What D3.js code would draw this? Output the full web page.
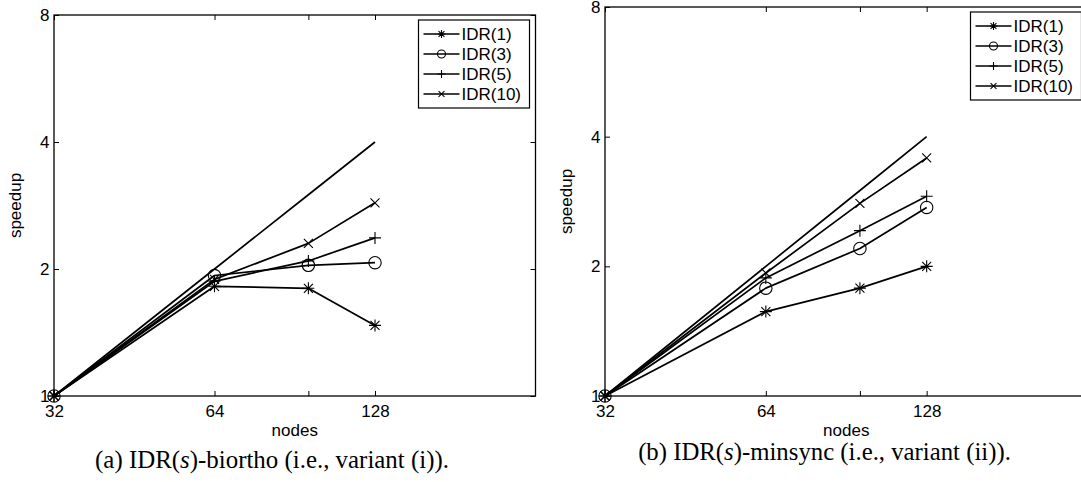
<!DOCTYPE html>
<html>
<head>
<meta charset="utf-8">
<script src="https://cdn.jsdelivr.net/npm/d3@7"></script>
<style>
  html, body { margin: 0; padding: 0; background: #fff; }
  svg { display: block; }
  text { font-family: "Liberation Sans", Arial, Helvetica, sans-serif; fill: #000; }
  .cap { font-family: "Liberation Serif", "DejaVu Serif", serif; }
</style>
</head>
<body>
<svg id="chart" width="1081" height="482"></svg>
<script>
// ---- data ----
const nodes = [32, 64, 96, 128];
const xTickLabels = ["32", "64", "", "128"];
const yTicks = [1, 2, 4, 8];
const yTickLabels = ["1", "2", "4", "8"];
const seriesNames = ["IDR(1)", "IDR(3)", "IDR(5)", "IDR(10)"];
const seriesMarkers = ["asterisk", "circle", "plus", "cross"];
const idealSpeedup = [1, 2, 3, 4];

// (a) IDR(s)-biortho
const biorthoIDR1  = [1, 1.82, 1.80, 1.47];
const biorthoIDR3  = [1, 1.93, 2.04, 2.07];
const biorthoIDR5  = [1, 1.87, 2.09, 2.37];
const biorthoIDR10 = [1, 1.89, 2.30, 2.87];

// (b) IDR(s)-minsync
const minsyncIDR1  = [1, 1.57, 1.78, 2.00];
const minsyncIDR3  = [1, 1.78, 2.20, 2.74];
const minsyncIDR5  = [1, 1.88, 2.42, 2.91];
const minsyncIDR10 = [1, 1.93, 2.80, 3.57];

const xDomain = [32, 256];
const yDomain = [1, 8];

// ---- drawing ----
const svg = d3.select("#chart");
svg.append("rect").attr("width", 1081).attr("height", 482).attr("fill", "#fff");

function markerPath(type, s) {
  const a = 6 * s, d = 4.5 * s;
  if (type === "asterisk") return `M${-a},0H${a}M0,${-a}V${a}M${-d},${-d}L${d},${d}M${-d},${d}L${d},${-d}`;
  if (type === "plus") return `M${-a},0H${a}M0,${-a}V${a}`;
  if (type === "cross") return `M${-d},${-d}L${d},${d}M${-d},${d}L${d},${-d}`;
  return null;
}
function drawMarker(g, type, x, y, s) {
  if (type === "circle") {
    g.append("circle").attr("cx", x).attr("cy", y).attr("r", 6.2 * s)
      .attr("fill", "none").attr("stroke", "#000").attr("stroke-width", 1.1);
  } else {
    g.append("path").attr("transform", `translate(${x},${y})`).attr("d", markerPath(type, s))
      .attr("fill", "none").attr("stroke", "#000").attr("stroke-width", 1.1);
  }
}

const panels = [
  { left: 54, right: 535.5, top: 15, bottom: 396,
    series: [biorthoIDR1, biorthoIDR3, biorthoIDR5, biorthoIDR10],
    ylabX: 21, capPre: "(a) IDR(", capPost: ")-biortho (i.e., variant (i)).",
    capX: 272, capY: 468, capW: 354 },
  { left: 605, right: 1087.5, top: 7, bottom: 396,
    series: [minsyncIDR1, minsyncIDR3, minsyncIDR5, minsyncIDR10],
    ylabX: 572, capPre: "(b) IDR(", capPost: ")-minsync (i.e., variant (ii)).",
    capX: 824.5, capY: 460, capW: 373 }
];

panels.forEach(p => {
  const x = d3.scaleLog().base(2).domain(xDomain).range([p.left, p.right]);
  const y = d3.scaleLog().base(2).domain(yDomain).range([p.bottom, p.top]);
  const g = svg.append("g");

  // axes (inward ticks)
  const fmtX = d => xTickLabels[nodes.indexOf(d)];
  const fmtY = d => yTickLabels[yTicks.indexOf(d)];
  const ax = g.append("g").attr("transform", `translate(0,${p.bottom})`)
    .call(d3.axisBottom(x).tickValues(nodes).tickFormat(fmtX).tickSizeInner(-5).tickSizeOuter(0).tickPadding(9));
  const axT = g.append("g").attr("transform", `translate(0,${p.top})`)
    .call(d3.axisTop(x).tickValues(nodes).tickFormat("").tickSizeInner(-5).tickSizeOuter(0));
  const ay = g.append("g").attr("transform", `translate(${p.left},0)`)
    .call(d3.axisLeft(y).tickValues(yTicks).tickFormat(fmtY).tickSizeInner(-5).tickSizeOuter(0).tickPadding(4.5));
  const ayR = g.append("g").attr("transform", `translate(${p.right},0)`)
    .call(d3.axisRight(y).tickValues(yTicks).tickFormat("").tickSizeInner(-5).tickSizeOuter(0));
  [ax, axT, ay, ayR].forEach(a => {
    a.select(".domain").remove();
    a.selectAll("line").attr("stroke", "#000").attr("stroke-width", 1);
    a.selectAll("text").style("font-family", '"Liberation Sans", Arial, sans-serif').style("font-size", "17px").attr("fill", "#000");
  });

  // frame
  g.append("rect").attr("x", p.left).attr("y", p.top)
    .attr("width", p.right - p.left).attr("height", p.bottom - p.top)
    .attr("fill", "none").attr("stroke", "#000").attr("stroke-width", 1.3);

  const line = d3.line().x((d, i) => x(nodes[i])).y(d => y(d));

  // ideal
  g.append("path").datum(idealSpeedup).attr("d", line)
    .attr("fill", "none").attr("stroke", "#000").attr("stroke-width", 1.7);

  // series
  p.series.forEach((vals, si) => {
    g.append("path").datum(vals).attr("d", line)
      .attr("fill", "none").attr("stroke", "#000").attr("stroke-width", 1.7).attr("stroke-linejoin", "round");
    vals.forEach((v, i) => drawMarker(g, seriesMarkers[si], x(nodes[i]), y(v), 1));
  });

  // legend
  const lw = 111, lh = 88;
  const lx = p.right - 6 - lw, ly = p.top + 5;
  const lg = g.append("g");
  lg.append("rect").attr("x", lx).attr("y", ly).attr("width", lw).attr("height", lh)
    .attr("fill", "#fff").attr("stroke", "#000").attr("stroke-width", 1.2);
  seriesNames.forEach((name, i) => {
    const ry = ly + 14 + i * 20;
    lg.append("line").attr("x1", lx + 5).attr("x2", lx + 41).attr("y1", ry).attr("y2", ry)
      .attr("stroke", "#000").attr("stroke-width", 1.7);
    drawMarker(lg, seriesMarkers[i], lx + 23, ry, 0.65);
    lg.append("text").attr("x", lx + 43).attr("y", ry + 6).style("font-size", "17px").text(name);
  });

  // axis labels
  g.append("text").attr("x", (p.left + p.right) / 2).attr("y", 436)
    .attr("text-anchor", "middle").style("font-size", "17px").text("nodes");
  g.append("text").attr("transform", `translate(${p.ylabX},${(p.top + p.bottom) / 2}) rotate(-90)`)
    .attr("text-anchor", "middle").style("font-size", "17px").text("speedup");

  // caption
  const cap = g.append("text").attr("class", "cap").attr("x", p.capX).attr("y", p.capY)
    .attr("text-anchor", "middle").style("font-size", "20px");
  cap.append("tspan").text(p.capPre);
  cap.append("tspan").style("font-style", "italic").text("s");
  cap.append("tspan").text(p.capPost);
  const w = cap.node().getComputedTextLength();
  cap.style("font-size", (20 * p.capW / w).toFixed(2) + "px");
});
</script>
</body>
</html>
